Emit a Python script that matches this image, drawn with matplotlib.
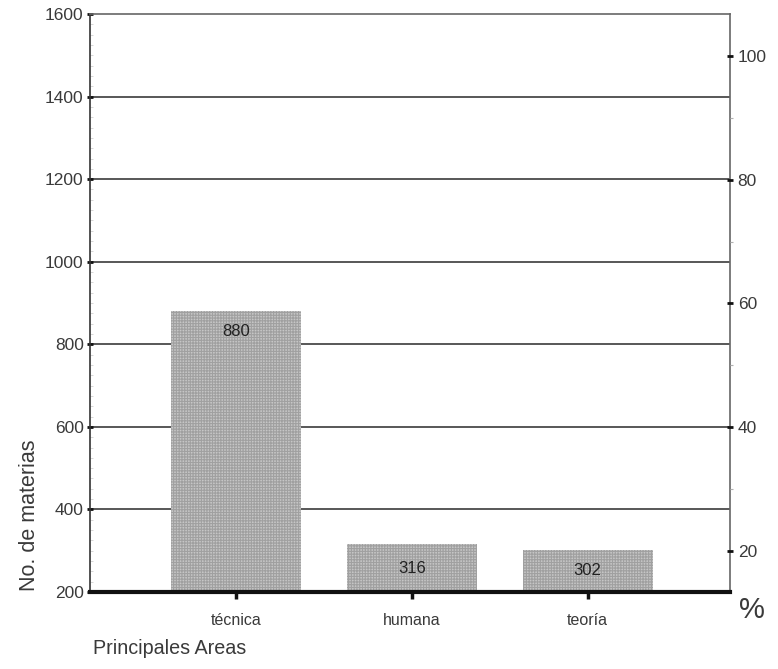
import matplotlib
matplotlib.use("Agg")
import matplotlib.pyplot as plt
from matplotlib.ticker import MultipleLocator, FixedLocator

plt.rcParams['font.family'] = ['Liberation Sans', 'DejaVu Sans']
plt.rcParams['hatch.linewidth'] = 0.8

# Data
areas = ["técnica", "humana", "teoría"]
materias = [880, 316, 302]
left_ticks = [200, 400, 600, 800, 1000, 1200, 1400, 1600]
pct_ticks = [20, 40, 60, 80, 100]
pct_minor = [30, 50, 70, 90]

total = sum(materias)
ymin, ymax = 200, 1600
txt = '#3a3a3a'

fig = plt.figure(figsize=(7.78, 6.69), dpi=100)
ax = fig.add_axes([90 / 778, 1 - 592 / 669, 640 / 778, 578 / 669])

x = list(range(len(areas)))
bars = ax.bar(x, [v - ymin for v in materias], bottom=ymin, width=0.74,
              color='#c6c6c6', edgecolor='#a0a0a0', linewidth=0,
              hatch='++++++', zorder=3)

ax.set_xlim(-0.83, 2.81)
ax.set_ylim(ymin, ymax)
ax.set_yticks(left_ticks)
ax.yaxis.set_minor_locator(MultipleLocator(25))
ax.set_xticks(x)
ax.set_xticklabels(areas, fontsize=11.5, color=txt)

# horizontal rules at the major ticks
for v in left_ticks[1:-1]:
    ax.axhline(v, color='#2a2a2a', lw=1.1, zorder=1)

ax.tick_params(axis='y', which='major', direction='inout', length=5, width=2,
               color='#111', labelsize=12.5, labelcolor=txt, pad=2)
ax.tick_params(axis='y', which='minor', direction='in', length=2, width=0.5,
               color='#c8c8c8')
ax.tick_params(axis='x', which='major', direction='out', length=5, width=2.5,
               color='#111', pad=10)

ax.spines['bottom'].set_linewidth(3)
ax.spines['bottom'].set_color('#111')
ax.spines['bottom'].set_zorder(4)
ax.spines['left'].set_linewidth(1.2)
ax.spines['left'].set_color('#333')
for s in ('top', 'right'):
    ax.spines[s].set_linewidth(1.2)
    ax.spines[s].set_color('#666')
    ax.spines[s].set_linestyle((0, (1, 1)))

# value labels inside the bars
for b, v in zip(bars, materias):
    cx = b.get_x() + b.get_width() / 2
    if v - ymin > 300:
        ax.annotate(str(v), (cx, v), xytext=(0, -9), textcoords='offset points',
                    ha='center', va='top', fontsize=12, color='#222', zorder=5)
    else:
        ax.text(cx, (v + ymin) / 2, str(v), ha='center', va='center',
                fontsize=12, color='#222', zorder=5)

# percentage scale on the right
ax2 = ax.twinx()
ax2.set_ylim(ymin / total * 100, ymax / total * 100)
ax2.set_yticks(pct_ticks)
ax2.yaxis.set_minor_locator(FixedLocator(pct_minor))
ax2.tick_params(axis='y', which='major', direction='inout', length=5, width=2,
                color='#111', labelsize=12.5, labelcolor=txt, pad=3)
ax2.tick_params(axis='y', which='minor', direction='out', length=2, width=0.8,
                color='#b0b0b0')
for s in ax2.spines.values():
    s.set_visible(False)

fig.text(0.038, 1 - 515 / 669, "No. de materias", rotation=90, ha='center',
         va='center', fontsize=15.5, color=txt)
fig.text(93 / 778, 1 - 648 / 669, "Principales Areas", ha='left', va='center',
         fontsize=14.2, color=txt)
fig.text(752 / 778, 1 - 610 / 669, "%", ha='center', va='center',
         fontsize=21, color=txt)

fig.savefig("out.png", dpi=100)
